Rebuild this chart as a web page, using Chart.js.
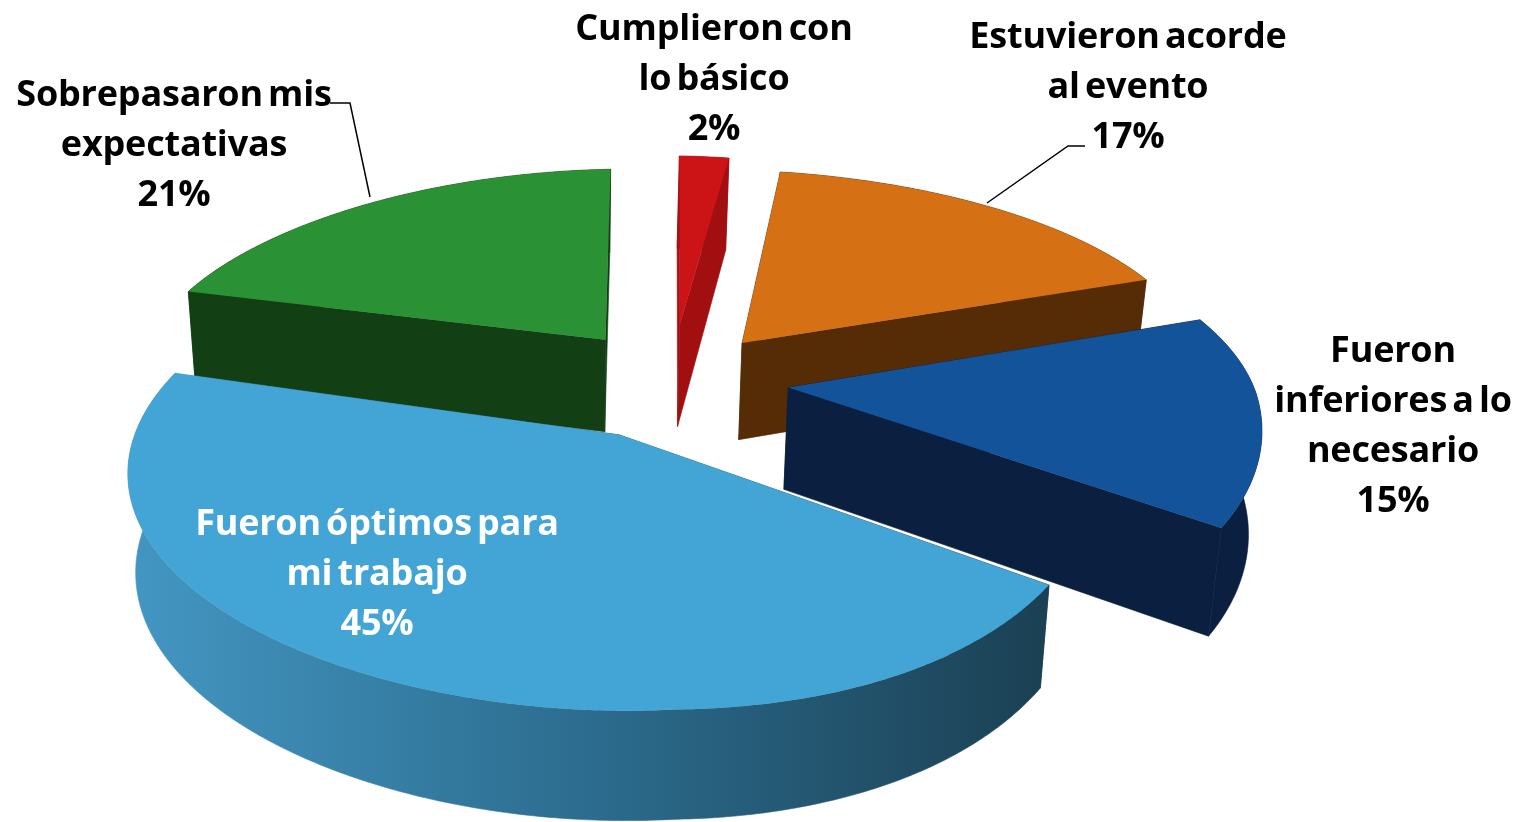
<!DOCTYPE html>
<html>
<head>
<meta charset="utf-8">
<title>Pie</title>
<script src="https://cdn.jsdelivr.net/npm/chart.js@4"></script>
<style>
  html, body { margin: 0; background: #fff; }
  canvas { display: block; }
</style>
</head>
<body>
<canvas id="pie" width="1533" height="822"></canvas>
<script>
// clockwise from 12 o'clock
const categories = ['Cumplieron con|lo básico', 'Estuvieron acorde|al evento', 'Fueron|inferiores a lo|necesario', 'Fueron óptimos para|mi trabajo', 'Sobrepasaron mis|expectativas'];
const values = [2, 17, 15, 45, 21];
const explode = [0.28, 0.24, 0.24, 0.27, 0.25];
const slide = [-0.006, 0, 0, -0.012, 0];
const squeeze = [1, 1, 1, 0.98, 1];
const depth = [1.12, 1.05, 1.08, 1, 1];
const turn = [0.6, 0, 0, 0, 0]; // degrees

const topColors = ['#cc1316', '#d57014', '#135399', '#42a5d6', '#2a9135'];
const wallColors = ['#a20f10', '#562c07', '#0b2040', null, '#133f14'];

const labelPos = [[714, 30], [1128, 38], [1393, 352], [377, 525], [174, 96]];
const labelColors = ['#000', '#000', '#000', '#fff', '#000'];
const leaders = [null, [[1085, 146], [1068, 146], [987, 203]], null, null, [[330, 103], [350, 103], [370, 197]]];

const PIE_R = 300;
// ground plane -> screen, hand fitted
const view = { cx: 676, cy: 381, A: 468, B: 212, p: 0.16, px: 0.15, cross: 0.03, shear: 0.02, twist: 0.03, D: 94, taper: 0.018, lean: 2 };

function project(X, Y, Z) {
  const w = 1 - view.p * Y;
  const sx = view.A * X / (1 - view.px * Y) * (1 - view.cross * X * Y);
  return {
    x: view.cx + sx * (1 - view.taper * Z) - view.lean * Z,
    y: view.cy + view.B * Y / w + view.shear * sx + view.twist * Math.max(sx * Y, 0) + view.D * Z / Math.pow(w, 0.7)
  };
}

function trace(ctx, pts) {
  ctx.beginPath();
  pts.forEach((p, i) => i ? ctx.lineTo(p.x, p.y) : ctx.moveTo(p.x, p.y));
  ctx.closePath();
}

function drawSlice(ctx, s) {
  const tip = z => project(s.ox, s.oy, z * s.depth);
  const rim = (a, z) => project(s.ox + s.squeeze * Math.cos(a), s.oy + Math.sin(a), z * s.depth);
  const angles = [];
  const n = Math.ceil((s.end - s.start) / 0.01);
  for (let i = 0; i <= n; i++) angles.push(s.start + (s.end - s.start) * i / n);

  let wall = s.wall;
  if (!wall) {
    wall = ctx.createLinearGradient(135, 0, 1045, 0);
    wall.addColorStop(0, '#4396c2');
    wall.addColorStop(0.5, '#2c6c8e');
    wall.addColorStop(1, '#1b4053');
  }
  ctx.fillStyle = wall;
  ctx.strokeStyle = wall;
  ctx.lineWidth = 0.6;
  trace(ctx, [tip(0), rim(s.start, 0), rim(s.start, 1), tip(1)]); ctx.fill(); ctx.stroke();
  trace(ctx, [tip(0), rim(s.end, 0), rim(s.end, 1), tip(1)]); ctx.fill(); ctx.stroke();
  trace(ctx, angles.map(a => rim(a, 0)).concat(angles.slice().reverse().map(a => rim(a, 1)))); ctx.fill(); ctx.stroke();

  ctx.fillStyle = s.color;
  trace(ctx, [tip(0)].concat(angles.map(a => rim(a, 0)))); ctx.fill();
}

const pie3d = {
  id: 'pie3d',
  beforeDatasetsDraw(chart) {
    const ctx = chart.ctx;
    const slices = chart.getDatasetMeta(0).data.map((arc, i) => {
      const mid = (arc.startAngle + arc.endAngle) / 2;
      const e = arc.options.offset / 4 / arc.outerRadius;
      const t = turn[i] * Math.PI / 180;
      return {
        start: arc.startAngle + t, end: arc.endAngle + t,
        ox: e * Math.cos(mid) + slide[i], oy: e * Math.sin(mid),
        squeeze: squeeze[i], depth: depth[i],
        color: topColors[i], wall: wallColors[i]
      };
    });
    slices.sort((a, b) => a.oy - b.oy).forEach(s => drawSlice(ctx, s));
    return false;
  },
  afterDraw(chart) {
    const ctx = chart.ctx;
    ctx.save();
    ctx.strokeStyle = '#000';
    ctx.lineWidth = 1.5;
    leaders.forEach(l => {
      if (!l) return;
      ctx.beginPath();
      l.forEach((p, i) => i ? ctx.lineTo(p[0], p[1]) : ctx.moveTo(p[0], p[1]));
      ctx.stroke();
    });
    ctx.font = 'bold 36px "Open Sans"';
    ctx.letterSpacing = '-0.2px';
    ctx.wordSpacing = '-4px';
    ctx.textAlign = 'center';
    ctx.textBaseline = 'middle';
    categories.forEach((c, i) => {
      ctx.fillStyle = labelColors[i];
      const lines = c.split('|').concat(values[i] + '%');
      lines.forEach((t, j) => ctx.fillText(t, labelPos[i][0], labelPos[i][1] + j * 50));
    });
    ctx.restore();
  }
};

new Chart(document.getElementById('pie'), {
  type: 'pie',
  data: {
    labels: categories.map(c => c.replace(/\|/g, ' ')),
    datasets: [{ data: values, backgroundColor: topColors, offset: explode.map(e => e * 4 * PIE_R), borderWidth: 0 }]
  },
  options: {
    responsive: false,
    animation: false,
    radius: PIE_R,
    rotation: -0.6,
    plugins: { legend: { display: false }, tooltip: { enabled: false } }
  },
  plugins: [pie3d]
});
</script>
</body>
</html>
